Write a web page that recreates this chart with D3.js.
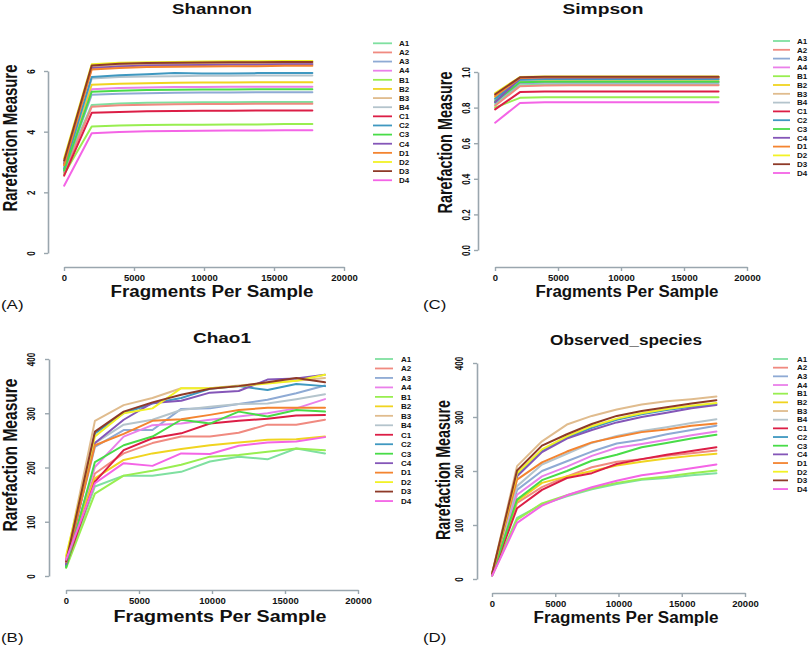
<!DOCTYPE html>
<html><head><meta charset="utf-8">
<script src="https://cdn.jsdelivr.net/npm/d3@7"></script>
<style>
body{margin:0;background:#fff;}
text{font-family:"Liberation Sans",Arial,sans-serif;}
</style></head>
<body><svg id="c" width="810" height="648"></svg>
<script>
const samples = ["A1","A2","A3","A4","B1","B2","B3","B4","C1","C2","C3","C4","D1","D2","D3","D4"];
const colors = ["#7fe0a0","#f08a80","#8eaad4","#ea80ea","#98ee50","#f0d420","#e0bc8e","#b4c4cc","#dc1e46","#3f98c0","#48dc48","#8456b8","#f48430","#f2f226","#8e3a28","#f464e6"];
const depths = [10, 1980, 3950, 5920, 7890, 9860, 11830, 13800, 15770, 17740];
const xTicks = [0, 5000, 10000, 15000, 20000];

const shannon = [
 [2.75,4.88,4.93,4.95,4.96,4.97,4.97,4.98,4.98,4.98],
 [2.65,4.82,4.87,4.89,4.90,4.91,4.91,4.92,4.92,4.92],
 [2.70,5.22,5.25,5.27,5.28,5.29,5.29,5.30,5.30,5.30],
 [2.85,5.40,5.44,5.46,5.47,5.47,5.48,5.48,5.48,5.48],
 [2.60,4.17,4.20,4.22,4.23,4.23,4.24,4.24,4.25,4.25],
 [2.90,5.55,5.58,5.60,5.61,5.62,5.62,5.63,5.63,5.63],
 [3.00,6.15,6.20,6.22,6.23,6.24,6.24,6.25,6.25,6.25],
 [2.80,5.75,5.80,5.82,5.83,5.84,5.84,5.85,5.85,5.85],
 [2.55,4.62,4.65,4.67,4.68,4.69,4.69,4.70,4.70,4.70],
 [2.78,5.80,5.86,5.89,5.93,5.92,5.92,5.93,5.93,5.93],
 [2.72,5.32,5.35,5.37,5.38,5.39,5.39,5.40,5.40,5.40],
 [2.95,6.10,6.15,6.18,6.19,6.20,6.21,6.21,6.22,6.22],
 [2.90,6.05,6.10,6.13,6.14,6.15,6.16,6.16,6.17,6.17],
 [3.12,6.22,6.27,6.29,6.30,6.31,6.32,6.32,6.33,6.33],
 [3.05,6.18,6.24,6.26,6.27,6.28,6.29,6.29,6.30,6.30],
 [2.22,3.95,3.99,4.01,4.02,4.03,4.04,4.04,4.05,4.05]
];
const simpson = [
 [0.820,0.926,0.929,0.930,0.930,0.930,0.930,0.930,0.930,0.930],
 [0.810,0.920,0.924,0.925,0.925,0.925,0.925,0.925,0.925,0.925],
 [0.830,0.937,0.940,0.940,0.940,0.940,0.940,0.940,0.940,0.940],
 [0.840,0.942,0.945,0.945,0.945,0.945,0.945,0.945,0.945,0.945],
 [0.800,0.855,0.858,0.858,0.858,0.858,0.858,0.858,0.858,0.858],
 [0.860,0.952,0.955,0.955,0.955,0.955,0.955,0.955,0.955,0.955],
 [0.870,0.968,0.972,0.972,0.972,0.972,0.972,0.972,0.972,0.972],
 [0.845,0.955,0.958,0.958,0.958,0.958,0.958,0.958,0.958,0.958],
 [0.790,0.887,0.890,0.890,0.890,0.890,0.890,0.890,0.890,0.890],
 [0.850,0.957,0.960,0.960,0.960,0.960,0.960,0.960,0.960,0.960],
 [0.835,0.942,0.945,0.945,0.945,0.945,0.945,0.945,0.945,0.945],
 [0.830,0.965,0.968,0.968,0.968,0.968,0.968,0.968,0.968,0.968],
 [0.865,0.966,0.970,0.970,0.970,0.970,0.970,0.970,0.970,0.970],
 [0.882,0.972,0.975,0.975,0.975,0.975,0.975,0.975,0.975,0.975],
 [0.875,0.970,0.973,0.973,0.973,0.973,0.973,0.973,0.973,0.973],
 [0.715,0.826,0.830,0.830,0.830,0.830,0.830,0.830,0.830,0.830]
];
const chao1 = [
 [18,165,185,185,192,211,220,215,235,226],
 [22,189,226,245,257,257,264,279,279,288],
 [25,238,269,269,308,309,317,325,337,351],
 [28,201,257,278,281,288,294,300,309,326],
 [15,152,185,194,205,220,223,229,235,232],
 [35,180,214,226,234,241,246,251,252,257],
 [30,286,315,328,346,346,351,356,360,365],
 [24,245,279,288,306,312,317,318,326,335],
 [20,174,232,254,263,281,286,290,296,297],
 [18,263,300,318,328,345,350,343,354,350],
 [16,210,241,257,288,281,303,294,306,303],
 [22,245,288,319,323,338,341,362,364,371],
 [26,241,262,286,289,297,306,310,310,310],
 [38,257,300,309,346,346,350,355,360,371],
 [27,266,303,320,334,345,350,357,365,357],
 [30,171,208,203,226,225,240,246,248,256]
];
const observed = [
 [7,113,138,153,166,176,184,187,192,196],
 [8,141,170,190,207,217,222,228,233,238],
 [9,165,200,218,236,251,258,268,276,284],
 [8,156,190,208,228,243,250,258,266,273],
 [6,110,140,155,168,178,185,190,196,201],
 [10,144,178,190,200,210,217,223,228,232],
 [10,209,255,286,302,314,323,329,333,338],
 [9,172,212,232,252,265,274,281,289,296],
 [7,131,165,187,196,213,222,230,237,244],
 [8,192,238,262,280,295,305,313,319,324],
 [7,147,183,200,219,230,244,252,260,267],
 [9,190,235,260,276,290,300,308,316,322],
 [9,184,216,236,253,263,272,277,284,288],
 [10,196,240,264,283,297,307,315,321,326],
 [10,201,247,268,287,302,311,318,325,331],
 [6,104,136,155,170,182,192,198,205,212]
];
const shannonTicks = [0,2,4,6];
const simpsonTicks = [0,0.2,0.4,0.6,0.8,1.0];
const countTicks = [0,100,200,300,400];

const svg = d3.select("#c");
const axisColor = "#9aa6ae";

const panels = [
 {title:"Shannon", values:shannon, letter:"(A)", yTicks:shannonTicks, fmt:d3.format("d"), yDomain:[0,6],
  x0:64, x1:344, yAxisX:48, xAxisY:267, yRange:[253,71], yTickOff:13,
  titleX:212, titleY:13.5, titleW:80, xlabX:212, xlabY:297, xlabW:203,
  ylabX:17, ylabY:138, ylabW:147, letX:1, letY:309,
  leg:{x0:373,x1:392,tx:399,y0:43.3,dy:9.13}},
 {title:"Simpson", values:simpson, letter:"(C)", yTicks:simpsonTicks, fmt:d3.format(".1f"), yDomain:[0,1],
  x0:495, x1:747, yAxisX:478, xAxisY:267, yRange:[250,72], yTickOff:8,
  titleX:603, titleY:13.5, titleW:81, xlabX:627, xlabY:297, xlabW:183,
  ylabX:452, ylabY:142.5, ylabW:142, letX:423, letY:309,
  leg:{x0:773,x1:790,tx:797,y0:41,dy:8.8}},
 {title:"Chao1", values:chao1, letter:"(B)", yTicks:countTicks, fmt:d3.format("d"), yDomain:[0,400],
  x0:66, x1:358, yAxisX:49, xAxisY:590, yRange:[576,359], yTickOff:14,
  titleX:222, titleY:343, titleW:58, xlabX:220, xlabY:622, xlabW:213,
  ylabX:17, ylabY:455, ylabW:153, letX:1, letY:642,
  leg:{x0:375,x1:393,tx:401,y0:359,dy:9.47}},
 {title:"Observed_species", values:observed, letter:"(D)", yTicks:countTicks, fmt:d3.format("d"), yDomain:[0,400],
  x0:492, x1:745, yAxisX:477, xAxisY:593, yRange:[579,363], yTickOff:14,
  titleX:626, titleY:345, titleW:152, xlabX:626, xlabY:623, xlabW:185,
  ylabX:450, ylabY:470, ylabW:140, letX:423, letY:642,
  leg:{x0:773,x1:788,tx:797,y0:359,dy:8.67}}
];

panels.forEach(p => {
  const g = svg.append("g");
  const x = d3.scaleLinear().domain([0,20000]).range([p.x0, p.x1]);
  const y = d3.scaleLinear().domain(p.yDomain).range(p.yRange);

  const xa = g.append("g").attr("transform", `translate(0,${p.xAxisY})`)
    .call(d3.axisBottom(x).tickValues(xTicks).tickSize(4).tickSizeOuter(0).tickFormat(d3.format("d")));
  const ya = g.append("g").attr("transform", `translate(${p.yAxisX},0)`)
    .call(d3.axisLeft(y).tickValues(p.yTicks).tickSize(4).tickSizeOuter(0).tickFormat(p.fmt));
  [xa, ya].forEach(a => {
    a.select(".domain").attr("stroke", axisColor).attr("stroke-width", 1.6);
    a.selectAll(".tick line").attr("stroke", axisColor).attr("stroke-width", 1.4);
    a.selectAll(".tick text").attr("fill", "#111").attr("font-weight", "bold")
      .attr("font-family", "Liberation Sans, Arial, sans-serif");
  });
  xa.selectAll(".tick text").attr("font-size", 9.5).attr("y", 7);
  ya.selectAll(".tick text").attr("font-size", 8).attr("x", null).attr("dy", null)
    .attr("text-anchor", "middle")
    .attr("transform", `translate(${-p.yTickOff},0) scale(1.3,1) rotate(-90)`);

  const line = d3.line().x((d,i) => x(depths[i])).y(d => y(d));
  p.values.forEach((v,i) => {
    g.append("path").attr("d", line(v)).attr("fill", "none")
      .attr("stroke", colors[i]).attr("stroke-width", 2)
      .attr("stroke-linejoin", "round").attr("stroke-linecap", "round");
  });

  g.append("text").attr("x", p.titleX).attr("y", p.titleY).attr("text-anchor", "middle")
    .attr("font-size", 14).attr("font-weight", "bold").attr("fill", "#111")
    .attr("textLength", p.titleW).attr("lengthAdjust", "spacingAndGlyphs").text(p.title);
  g.append("text").attr("x", p.xlabX).attr("y", p.xlabY).attr("text-anchor", "middle")
    .attr("font-size", 16).attr("font-weight", "bold").attr("fill", "#111")
    .attr("textLength", p.xlabW).attr("lengthAdjust", "spacingAndGlyphs").text("Fragments Per Sample");
  g.append("text").attr("transform", `translate(${p.ylabX},${p.ylabY}) scale(1.3,1) rotate(-90)`)
    .attr("text-anchor", "middle").attr("font-size", 15).attr("font-weight", "bold").attr("fill", "#111")
    .attr("textLength", p.ylabW).attr("lengthAdjust", "spacingAndGlyphs").text("Rarefaction Measure");
  g.append("text").attr("transform", `translate(${p.letX},${p.letY}) scale(1.3,1)`)
    .attr("font-size", 13).attr("fill", "#111").text(p.letter);

  const lg = g.append("g");
  samples.forEach((s,i) => {
    const yy = p.leg.y0 + i * p.leg.dy;
    lg.append("line").attr("x1", p.leg.x0).attr("x2", p.leg.x1).attr("y1", yy).attr("y2", yy)
      .attr("stroke", colors[i]).attr("stroke-width", 1.8);
    lg.append("text").attr("x", p.leg.tx).attr("y", yy).attr("dy", "0.35em")
      .attr("font-size", 8).attr("font-weight", "bold").attr("fill", "#111").text(s);
  });
});
</script></body></html>
